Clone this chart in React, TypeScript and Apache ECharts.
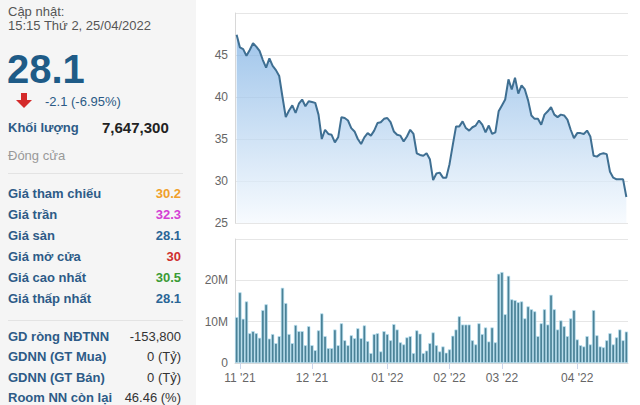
import React, { useEffect, useRef } from "react";
import * as echarts from "echarts";

// Trading days per month (day numbers)
const oct21Days = [29];
const nov21Days = [1, 2, 3, 4, 5, 8, 9, 10, 11, 12, 15, 16, 17, 18, 19, 22, 23, 24, 25, 26, 29, 30];
const dec21Days = [1, 2, 3, 6, 7, 8, 9, 10, 13, 14, 15, 16, 17, 20, 21, 22, 23, 24, 27, 28, 29, 30, 31];
const jan22Days = [4, 5, 6, 7, 10, 11, 12, 13, 14, 17, 18, 19, 20, 21, 24, 25, 26, 27, 28];
const feb22Days = [7, 8, 9, 10, 11, 14, 15, 16, 17, 18, 21, 22, 23, 24, 25, 28];
const mar22Days = [1, 2, 3, 4, 7, 8, 9, 10, 11, 14, 15, 16, 17, 18, 21, 22, 23, 24, 25, 28, 29, 30, 31];
const apr22Days = [1, 4, 5, 6, 7, 8, 12, 13, 14, 15, 18, 19, 20, 21, 22, 25];

const months: [string, number[]][] = [
  ["2021-10", oct21Days],
  ["2021-11", nov21Days],
  ["2021-12", dec21Days],
  ["2022-01", jan22Days],
  ["2022-02", feb22Days],
  ["2022-03", mar22Days],
  ["2022-04", apr22Days],
];

const dates: string[] = [];
months.forEach(([ym, days]) => days.forEach((d) => dates.push(ym + "-" + String(d).padStart(2, "0"))));

// Close price (thousand VND)
const prices = [
  47.4, 45.9, 45.7, 44.9, 45.6, 46.4, 46.0, 45.5, 44.4, 43.5,
  44.6, 43.7, 43.2, 42.5, 40.0, 37.6, 38.4, 39.0, 38.1, 39.2,
  39.7, 38.9, 39.5, 39.4, 39.3, 37.9, 35.0, 36.1, 35.6, 35.5,
  34.6, 35.2, 37.6, 37.5, 37.2, 36.3, 35.9, 35.0, 34.4, 35.2,
  35.7, 35.4, 36.0, 36.9, 37.0, 37.4, 37.5, 37.0, 35.9, 35.5,
  35.4, 34.7, 35.3, 36.1, 35.6, 33.3, 33.1, 33.0, 33.3, 32.6,
  30.1, 30.9, 31.0, 30.4, 30.4, 32.0, 34.3, 36.5, 36.5, 37.1,
  36.3, 36.0, 36.4, 36.6, 37.2, 36.7, 35.8, 36.6, 35.6, 35.8,
  38.3, 39.0, 39.7, 42.1, 40.9, 42.3, 40.4, 41.4, 40.9, 39.6,
  37.8, 37.4, 37.4, 36.7, 37.9, 38.3, 38.8, 37.9, 37.6, 37.9,
  37.8, 37.3, 36.1, 35.1, 35.7, 35.7, 35.6, 36.0, 35.3, 33.0,
  32.9, 33.2, 33.3, 33.2, 31.1, 30.4, 30.2, 30.2, 30.2, 28.1,
];

// Volume (millions of shares)
const volumesM = [
  11.1, 17.1, 10.7, 14.9, 7.2, 7.7, 7.2, 6.1, 12.8, 14.2,
  5.9, 7.0, 4.8, 6.5, 18.2, 14.5, 7.0, 4.8, 9.2, 7.7,
  7.7, 4.3, 8.9, 4.3, 3.1, 7.9, 12.0, 6.5, 3.6, 3.6,
  8.1, 4.3, 9.6, 5.5, 4.3, 6.7, 6.0, 8.4, 6.0, 9.1,
  5.3, 2.4, 7.0, 7.2, 2.8, 7.7, 7.0, 5.5, 9.4, 8.1,
  5.0, 4.5, 6.2, 6.5, 2.4, 7.9, 7.1, 2.4, 3.0, 4.8,
  7.4, 4.3, 2.8, 4.0, 2.5, 3.3, 6.6, 8.1, 11.3, 9.3,
  9.3, 9.3, 5.5, 4.5, 9.6, 7.0, 8.6, 5.2, 8.6, 5.0,
  21.6, 22.0, 11.8, 21.1, 15.4, 15.2, 14.7, 14.9, 10.8, 13.7,
  13.0, 12.5, 6.5, 9.6, 13.0, 9.3, 16.5, 13.0, 8.1, 10.3,
  8.9, 6.5, 10.8, 12.8, 5.7, 4.3, 4.0, 6.5, 4.5, 12.8,
  6.7, 4.0, 3.8, 5.5, 7.2, 4.5, 6.2, 8.1, 5.5, 7.6,
];

const priceTicks = [25, 30, 35, 40, 45];
const volumeTickLabels = ["0", "10M", "20M"];

// Left info panel
const updateLabel = "Cập nhật:";
const updateTime = "15:15 Thứ 2, 25/04/2022";
const lastPrice = "28.1";
const change = "-2.1 (-6.95%)";
const volumeLabel = "Khối lượng";
const volumeValue = "7,647,300";
const statusLabel = "Đóng cửa";
const priceRowLabels = ["Giá tham chiếu", "Giá trần", "Giá sàn", "Giá mở cửa", "Giá cao nhất", "Giá thấp nhất"];
const priceRowValues = ["30.2", "32.3", "28.1", "30", "30.5", "28.1"];
const priceRowColors = ["#f0a02a", "#d43fd4", "#2a6596", "#cf2e2e", "#3b9b35", "#2a6596"];
const foreignRowLabels = ["GD ròng NĐTNN", "GDNN (GT Mua)", "GDNN (GT Bán)", "Room NN còn lại"];
const foreignRowValues = ["-153,800", "0 (Tỷ)", "0 (Tỷ)", "46.46 (%)"];

const FONT = "Arial, 'Liberation Sans', sans-serif";

function monthLabel(d: string) {
  return d.slice(5, 7) + " '" + d.slice(2, 4);
}

export default function App() {
  const ref = useRef<HTMLDivElement>(null);

  useEffect(() => {
    if (!ref.current) return;
    const chart = echarts.init(ref.current, undefined, { renderer: "svg" });

    const monthStart = new Set<number>();
    dates.forEach((d, i) => {
      if (i > 0 && d.slice(0, 7) !== dates[i - 1].slice(0, 7)) monthStart.add(i);
    });
    const isStart = (i: number) => monthStart.has(i);

    const txt = (text: string, x: number, y: number, fill: string, fontSize: number, opts: any = {}) => ({
      type: "text",
      x,
      y,
      silent: true,
      style: {
        text,
        fill,
        fontSize,
        fontFamily: FONT,
        fontWeight: opts.bold ? "bold" : "normal",
        textAlign: opts.align || "left",
        textVerticalAlign: "middle",
        align: opts.align || "left",
        verticalAlign: "middle",
      },
    });

    const graphics: any[] = [
      { type: "rect", shape: { x: 0, y: 0, width: 196, height: 405 }, style: { fill: "#f5f5f5" }, silent: true, z: -10 },
      txt(updateLabel, 8, 11, "#555555", 13),
      txt(updateTime, 8, 25, "#555555", 13),
      txt(lastPrice, 7, 69, "#1e5b87", 40, { bold: true }),
      {
        type: "polygon",
        shape: { points: [[21, 93], [27, 93], [27, 100], [32, 100], [24, 108], [16, 100], [21, 100]] },
        style: { fill: "#d42a2a" },
        silent: true,
      },
      txt(change, 45, 101, "#2b5a85", 13),
      txt(volumeLabel, 8, 127, "#2d5b87", 13, { bold: true }),
      txt(volumeValue, 102, 127, "#222222", 15, { bold: true }),
      txt(statusLabel, 8, 155, "#999999", 13),
      { type: "line", shape: { x1: 8, y1: 173.5, x2: 183, y2: 173.5 }, style: { stroke: "#e3e3e3", lineWidth: 1 }, silent: true },
      { type: "line", shape: { x1: 8, y1: 320.5, x2: 183, y2: 320.5 }, style: { stroke: "#e3e3e3", lineWidth: 1 }, silent: true },
    ];
    priceRowLabels.forEach((l, i) => {
      const y = 193 + i * 21;
      graphics.push(txt(l, 8, y, "#2d5b87", 13, { bold: true }));
      graphics.push(txt(priceRowValues[i], 181, y, priceRowColors[i], 13, { align: "right", bold: true }));
    });
    foreignRowLabels.forEach((l, i) => {
      const y = 336 + i * 20.5;
      graphics.push(txt(l, 8, y, "#2d5b87", 13, { bold: true }));
      graphics.push(txt(foreignRowValues[i], 181, y, "#333333", 13, { align: "right" }));
    });

    const axisLabelStyle = { color: "#666666", fontSize: 12, fontFamily: FONT };

    chart.setOption({
      animation: false,
      backgroundColor: "#ffffff",
      graphic: graphics,
      grid: [
        { left: 235, right: 12, top: 13, height: 210 },
        { left: 235, right: 12, top: 239, height: 124 },
      ],
      xAxis: [
        {
          type: "category",
          gridIndex: 0,
          data: dates,
          boundaryGap: true,
          axisLine: { show: false },
          axisTick: { show: false },
          axisLabel: { show: false },
          splitLine: { show: false },
        },
        {
          type: "category",
          gridIndex: 1,
          data: dates,
          boundaryGap: true,
          axisLine: { show: true, lineStyle: { color: "#d8d8d8" } },
          axisTick: {
            show: true,
            alignWithLabel: true,
            interval: (i: number) => isStart(i),
            length: 6,
            lineStyle: { color: "#ccd6eb" },
          },
          axisLabel: {
            ...axisLabelStyle,
            interval: (i: number) => isStart(i),
            formatter: (v: string) => monthLabel(v),
            margin: 9,
          },
        },
      ],
      yAxis: [
        {
          type: "value",
          gridIndex: 0,
          min: 25,
          max: 50,
          interval: 5,
          axisLine: { show: true, lineStyle: { color: "#d8d8d8" } },
          axisTick: { show: false },
          axisLabel: {
            ...axisLabelStyle,
            margin: 7,
            formatter: (v: number) => (priceTicks.includes(v) ? String(v) : ""),
          },
          splitLine: { show: true, lineStyle: { color: "#e6e6e6" } },
        },
        {
          type: "value",
          gridIndex: 1,
          min: 0,
          max: 30,
          interval: 10,
          axisLine: { show: true, lineStyle: { color: "#d8d8d8" } },
          axisTick: { show: false },
          axisLabel: {
            ...axisLabelStyle,
            margin: 7,
            formatter: (v: number) => volumeTickLabels[v / 10] || "",
          },
          splitLine: { show: true, lineStyle: { color: "#e6e6e6" } },
        },
      ],
      series: [
        {
          type: "line",
          xAxisIndex: 0,
          yAxisIndex: 0,
          data: prices,
          showSymbol: false,
          symbol: "none",
          lineStyle: { color: "#3f6f92", width: 2 },
          areaStyle: {
            origin: "start",
            color: new echarts.graphic.LinearGradient(0, 0, 0, 1, [
              { offset: 0, color: "#78ade2" },
              { offset: 1, color: "#f4f9fe" },
            ]),
          },
        },
        {
          type: "bar",
          xAxisIndex: 1,
          yAxisIndex: 1,
          data: volumesM,
          barCategoryGap: "0%",
          itemStyle: { color: "#4a8196", borderColor: "#b9e2f3", borderWidth: 0.7 },
        },
      ],
    });

    return () => chart.dispose();
  }, []);

  return (
    <div
      ref={ref}
      style={{ position: "absolute", left: 0, top: 0, width: 640, height: 405 }}
    />
  );
}
